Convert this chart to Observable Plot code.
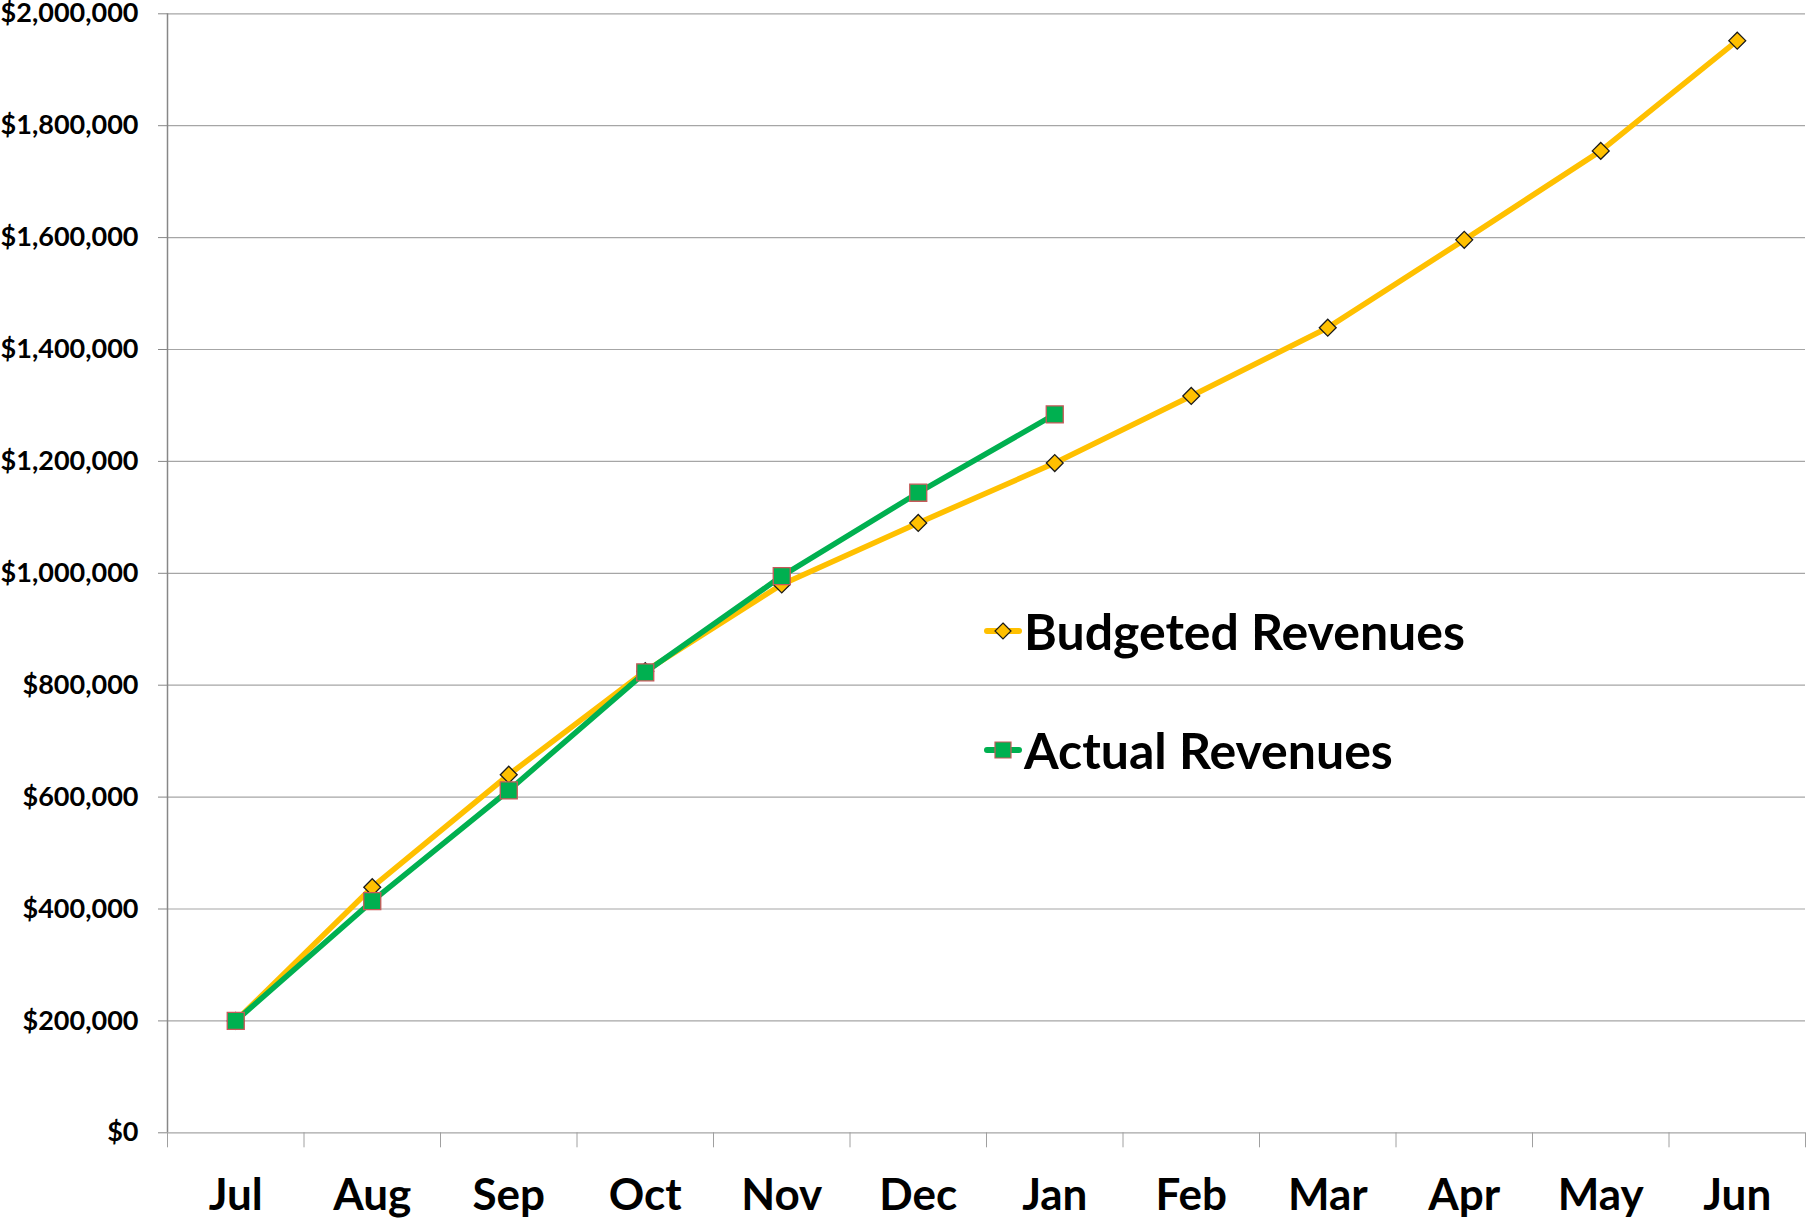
<!DOCTYPE html>
<html>
<head>
<meta charset="utf-8">
<script src="https://cdn.jsdelivr.net/npm/d3@7"></script>
<script src="https://cdn.jsdelivr.net/npm/@observablehq/plot@0.6"></script>
<style>
  html, body { margin: 0; padding: 0; background: #fff; }
  #wrap { position: relative; width: 1808px; height: 1222px; overflow: hidden; font-family: Lato, "Open Sans", sans-serif; }
  .leg { position: absolute; display: flex; align-items: center; font-weight: 700; font-size: 50px; color: #000; line-height: 1; white-space: nowrap; }
  .leg svg { display: block; margin-right: 2px; }
</style>
</head>
<body>
<div id="wrap"></div>
<script>
// ---- data ----
const months = ["Jul", "Aug", "Sep", "Oct", "Nov", "Dec", "Jan", "Feb", "Mar", "Apr", "May", "Jun"];
const budgeted = [200000, 439000, 640000, 825000, 980000, 1090000, 1197000, 1317000, 1439000, 1596000, 1755000, 1952000];
const actual = [200000, 414000, 612000, 823000, 995000, 1144000, 1284000];
const seriesNames = ["Budgeted Revenues", "Actual Revenues"];
const yTicks = [0, 200000, 400000, 600000, 800000, 1000000, 1200000, 1400000, 1600000, 1800000, 2000000];

const budgetRows = budgeted.map((v, i) => ({i, v}));
const actualRows = actual.map((v, i) => ({i, v}));
const monthIdx = months.map((m, i) => i);
const boundaries = months.map((m, i) => i - 0.5).concat([months.length - 0.5]);

const YELLOW = "#FFC000", GREEN = "#00B050";

const chart = Plot.plot({
  width: 1808,
  height: 1222,
  marginTop: 13.3,
  marginBottom: 89.7,
  marginLeft: 167,
  marginRight: 3,
  style: {fontFamily: "Lato, 'Open Sans', sans-serif", color: "black", background: "white"},
  x: {type: "linear", domain: [-0.5, months.length - 0.5]},
  y: {domain: [0, 2000000]},
  marks: [
    Plot.gridY(yTicks, {stroke: "#A6A6A6", strokeOpacity: 1, strokeWidth: 1.2}),
    Plot.ruleX([-0.5], {stroke: "#878787", strokeWidth: 1.5}),
    Plot.axisY({ticks: yTicks, tickSize: 9, tickPadding: 20, tickFormat: d3.format("$,"),
      fontSize: 27, fontWeight: "bold", stroke: "#878787", fill: "black", label: null}),
    Plot.axisX({ticks: boundaries, tickSize: 15, tickFormat: () => "", stroke: "#A0A0A0", label: null}),
    Plot.axisX({ticks: monthIdx, tickSize: 0, tickPadding: 46, tickFormat: i => months[i],
      fontSize: 44, fontWeight: "bold", fill: "black", label: null}),
    Plot.line(budgetRows, {x: "i", y: "v", stroke: YELLOW, strokeWidth: 5.5}),
    Plot.dot(budgetRows, {x: "i", y: "v", symbol: "diamond2", r: 7.6, fill: YELLOW, stroke: "#1a1a1a", strokeWidth: 1.3}),
    Plot.line(actualRows, {x: "i", y: "v", stroke: GREEN, strokeWidth: 5.5}),
    Plot.dot(actualRows, {x: "i", y: "v", symbol: "square", r: 9.6, fill: GREEN, stroke: "#C8595A", strokeWidth: 1.3})
  ]
});

const wrap = document.getElementById("wrap");
wrap.appendChild(chart);

// ---- legend ----
function glyph(color, kind) {
  const ns = "http://www.w3.org/2000/svg";
  const s = document.createElementNS(ns, "svg");
  s.setAttribute("width", 38); s.setAttribute("height", 20);
  const l = document.createElementNS(ns, "line");
  l.setAttribute("x1", 3); l.setAttribute("x2", 35); l.setAttribute("y1", 10); l.setAttribute("y2", 10);
  l.setAttribute("stroke", color); l.setAttribute("stroke-width", 6); l.setAttribute("stroke-linecap", "round");
  s.appendChild(l);
  const m = document.createElementNS(ns, "path");
  if (kind === "diamond") {
    m.setAttribute("d", "M19,2L27,10L19,18L11,10Z");
    m.setAttribute("stroke", "#1a1a1a");
  } else {
    m.setAttribute("d", "M11,2H27V18H11Z");
    m.setAttribute("stroke", "#C8595A");
  }
  m.setAttribute("fill", color); m.setAttribute("stroke-width", 1.2);
  s.appendChild(m);
  return s;
}
const legendItems = [
  {name: seriesNames[0], color: YELLOW, kind: "diamond", top: 606},
  {name: seriesNames[1], color: GREEN, kind: "square", top: 725}
];
for (const it of legendItems) {
  const d = document.createElement("div");
  d.className = "leg";
  d.style.left = "984px";
  d.style.top = it.top + "px";
  d.appendChild(glyph(it.color, it.kind));
  const t = document.createElement("span");
  t.textContent = it.name;
  d.appendChild(t);
  wrap.appendChild(d);
}
</script>
</body>
</html>
